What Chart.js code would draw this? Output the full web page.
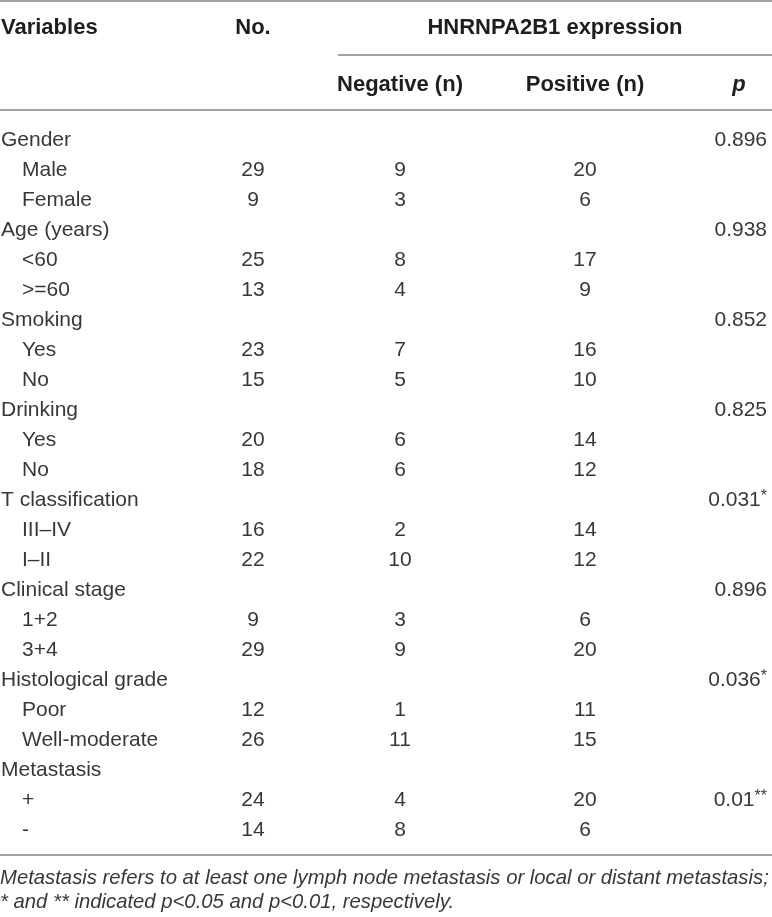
<!DOCTYPE html>
<html>
<head>
<meta charset="utf-8">
<script src="https://cdn.jsdelivr.net/npm/chart.js@4.4.1/dist/chart.umd.min.js"></script>
<style>
  html, body { margin: 0; padding: 0; background: #fff; }
  canvas { display: block; }
</style>
</head>
<body>
<canvas id="hnrnpa2b1-table" width="772" height="917"></canvas>
<script>
// table content
const rowLabels = ['Gender', 'Male', 'Female', 'Age (years)', '<60', '>=60', 'Smoking', 'Yes', 'No',
  'Drinking', 'Yes', 'No', 'T classification', 'III\u2013IV', 'I\u2013II', 'Clinical stage', '1+2', '3+4',
  'Histological grade', 'Poor', 'Well-moderate', 'Metastasis', '+', '-'];
const groupRows = [0, 3, 6, 9, 12, 15, 18, 21];
const totals = [null, 29, 9, null, 25, 13, null, 23, 15, null, 20, 18, null, 16, 22, null, 9, 29, null, 12, 26, null, 24, 14];
const negative = [null, 9, 3, null, 8, 4, null, 7, 5, null, 6, 6, null, 2, 10, null, 3, 9, null, 1, 11, null, 4, 8];
const positive = [null, 20, 6, null, 17, 9, null, 16, 10, null, 14, 12, null, 14, 12, null, 6, 20, null, 11, 15, null, 20, 6];
const pValues = ['0.896', '', '', '0.938', '', '', '0.852', '', '', '0.825', '', '', '0.031*', '', '', '0.896', '', '',
  '0.036*', '', '', '', '0.01**', ''];
const spanHeader = 'HNRNPA2B1 expression';
const colHeaders = ['Variables', 'No.', 'Negative (n)', 'Positive (n)', 'p'];
const footnotes = [
  'Metastasis refers to at least one lymph node metastasis or local or distant metastasis;',
  '* and ** indicated p<0.05 and p<0.01, respectively.'
];

// layout: x in pixels across the table, y in row units
const W = 772, H = 917, ROW_PX = 30, FIRST_ROW_PX = 140;
const toRow = px => (px - FIRST_ROW_PX) / ROW_PX;
const COL = { label: 1, indent: 22, no: 253, neg: 400, pos: 585, p: 767, pHead: 739, spanFrom: 338 };
const RULE_COLOR = '#a3a3a3';
const TEXT = '#383838', HEAD = '#1e1e1e';
const FAMILY = '"Liberation Sans", Arial, Helvetica, sans-serif';

function cells(values, x, align) {
  const out = [];
  values.forEach((v, i) => {
    if (v === null || v === '') return;
    out.push({ x: x, y: i, text: String(v), align: align });
  });
  return out;
}

function rule(yPx, x0, x1) {
  return {
    type: 'line',
    data: [{ x: x0, y: toRow(yPx) }, { x: x1, y: toRow(yPx) }],
    borderColor: RULE_COLOR,
    borderWidth: 2,
    pointRadius: 0,
    clip: false
  };
}

function textSet(data, font, color) {
  return { type: 'scatter', data: data, cells: true, font: font, color: color, pointRadius: 0, clip: false };
}

const labelCells = rowLabels.map((t, i) => ({
  x: groupRows.includes(i) ? COL.label : COL.indent, y: i, text: t, align: 'left'
}));

const headerCells = [
  { x: COL.label, y: toRow(28), text: colHeaders[0], align: 'left' },
  { x: COL.no, y: toRow(28), text: colHeaders[1], align: 'center' },
  { x: (COL.spanFrom + W) / 2, y: toRow(28), text: spanHeader, align: 'center' },
  { x: COL.neg, y: toRow(85), text: colHeaders[2], align: 'center' },
  { x: COL.pos, y: toRow(85), text: colHeaders[3], align: 'center' }
];

const footCells = footnotes.map((t, i) => ({ x: 0, y: toRow(878 + 24 * i), text: t, align: 'left' }));

// draws the text of every cell at the position the scales give its point
const cellText = {
  id: 'cellText',
  afterDatasetsDraw(chart) {
    const ctx = chart.ctx;
    ctx.save();
    ctx.textBaseline = 'middle';
    chart.data.datasets.forEach((ds, i) => {
      if (!ds.cells) return;
      const meta = chart.getDatasetMeta(i);
      meta.data.forEach((el, j) => {
        const c = ds.data[j];
        ctx.fillStyle = ds.color;
        const m = ds.stars ? c.text.match(/^([^*]+)(\**)$/) : null;
        if (m && m[2]) {
          ctx.font = '16px ' + FAMILY;
          ctx.textAlign = 'right';
          ctx.fillText(m[2], el.x, el.y - 3);
          const sw = ctx.measureText(m[2]).width;
          ctx.font = ds.font;
          ctx.fillText(m[1], el.x - sw, el.y);
        } else {
          ctx.font = ds.font;
          ctx.textAlign = c.align;
          ctx.fillText(c.text, el.x, el.y);
        }
      });
    });
    ctx.restore();
  }
};

const bodyFont = '21px ' + FAMILY;
const headFont = 'bold 22px ' + FAMILY;

const pSet = textSet(cells(pValues, COL.p, 'right'), bodyFont, TEXT);
pSet.stars = true;

new Chart(document.getElementById('hnrnpa2b1-table').getContext('2d'), {
  type: 'scatter',
  data: {
    datasets: [
      rule(1, 0, W),
      rule(55, COL.spanFrom, W),
      rule(110, 0, W),
      rule(855, 0, W),
      textSet(headerCells, headFont, HEAD),
      textSet([{ x: COL.pHead, y: toRow(85), text: colHeaders[4], align: 'center' }], 'italic bold 22px ' + FAMILY, HEAD),
      textSet(labelCells, bodyFont, TEXT),
      textSet(cells(totals, COL.no, 'center'), bodyFont, TEXT),
      textSet(cells(negative, COL.neg, 'center'), bodyFont, TEXT),
      textSet(cells(positive, COL.pos, 'center'), bodyFont, TEXT),
      pSet,
      textSet(footCells, 'italic 20.3px ' + FAMILY, TEXT)
    ]
  },
  options: {
    responsive: false,
    animation: false,
    events: [],
    layout: { padding: 0 },
    scales: {
      x: { type: 'linear', min: 0, max: W, display: false },
      y: { type: 'linear', min: toRow(0), max: toRow(H), reverse: true, display: false }
    },
    plugins: {
      legend: { display: false },
      tooltip: { enabled: false }
    }
  },
  plugins: [cellText]
});
</script>
</body>
</html>
